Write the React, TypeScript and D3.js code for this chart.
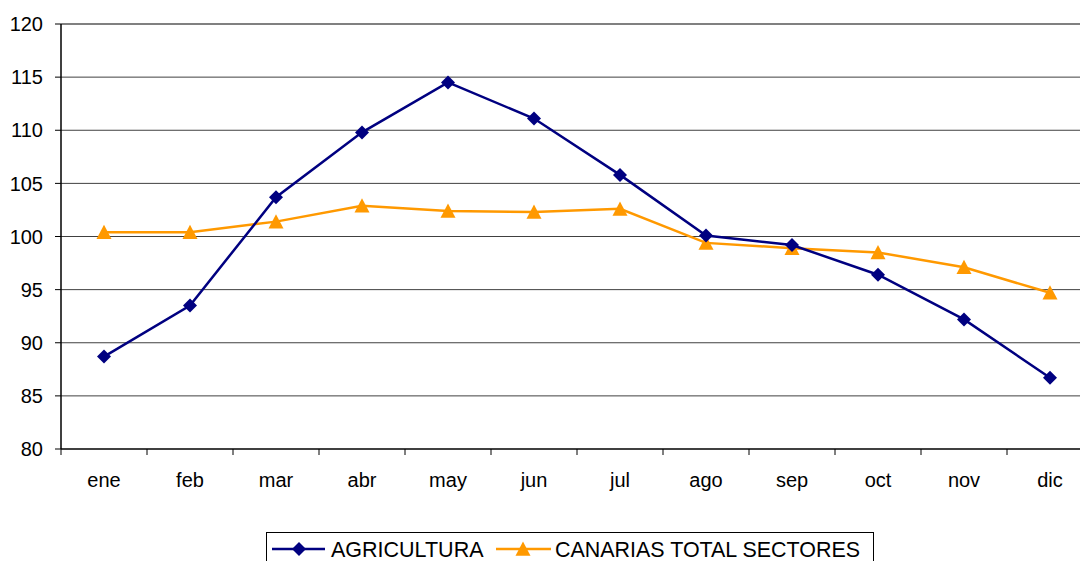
import React from "react";
import * as d3 from "d3";

const months = ["ene", "feb", "mar", "abr", "may", "jun", "jul", "ago", "sep", "oct", "nov", "dic"];
const agricultura = [88.7, 93.5, 103.7, 109.8, 114.5, 111.1, 105.8, 100.1, 99.2, 96.4, 92.2, 86.7];
const canarias = [100.4, 100.4, 101.4, 102.9, 102.4, 102.3, 102.6, 99.4, 98.9, 98.5, 97.1, 94.7];
const yTicks = [80, 85, 90, 95, 100, 105, 110, 115, 120];
const seriesNames = ["AGRICULTURA", "CANARIAS TOTAL SECTORES"];

const W = 1080, H = 561;
const left = 61, top = 24, bottom = 449, plotW = 1032;
const font = "'Liberation Sans', Arial, sans-serif";
const NAVY = "#000080", ORANGE = "#FF9900";

export default function App() {
  const x = d3.scaleBand<string>().domain(months).range([left, left + plotW]);
  const y = d3.scaleLinear().domain([80, 120]).range([bottom, top]);
  const cx = (m: string) => (x(m) as number) + x.bandwidth() / 2;
  const line = d3.line<number>().x((_, i) => cx(months[i])).y((d) => y(d));
  const diamond = (px: number, py: number, r = 7) => `M${px},${py - r}L${px + r},${py}L${px},${py + r}L${px - r},${py}Z`;
  const tri = (px: number, py: number, r = 7.5) => `M${px},${py - r}L${px + r},${py + r * 0.9}L${px - r},${py + r * 0.9}Z`;
  const ticksX = d3.range(months.length + 1).map((i) => left + i * x.step());

  return (
    <svg width={W} height={H} style={{ position: "absolute", left: 0, top: 0, background: "#fff" }}>
      {yTicks.map((t) => (
        <g key={t}>
          {t > 80 && <line x1={left} x2={W} y1={y(t)} y2={y(t)} stroke={t === 120 ? "#808080" : "#404040"} strokeWidth={t === 120 ? 2 : 1} />}
          <line x1={left - 6} x2={left} y1={y(t)} y2={y(t)} stroke="#000" />
          <text x={43} y={y(t)} dy="0.36em" textAnchor="end" fontFamily={font} fontSize={20} fill="#000">{t}</text>
        </g>
      ))}
      <line x1={left} x2={left} y1={top} y2={bottom} stroke="#000" strokeWidth={1.5} />
      <line x1={left} x2={W} y1={bottom} y2={bottom} stroke="#000" strokeWidth={1.5} />
      {ticksX.map((tx, i) => (
        <line key={i} x1={tx} x2={tx} y1={bottom} y2={bottom + 6} stroke="#000" />
      ))}
      {months.map((m) => (
        <text key={m} x={cx(m)} y={487} textAnchor="middle" fontFamily={font} fontSize={20} fill="#000">{m}</text>
      ))}
      <path d={line(canarias) || ""} fill="none" stroke={ORANGE} strokeWidth={2.5} />
      <path d={line(agricultura) || ""} fill="none" stroke={NAVY} strokeWidth={2.5} />
      {canarias.map((v, i) => (
        <path key={"c" + i} d={tri(cx(months[i]), y(v))} fill={ORANGE} />
      ))}
      {agricultura.map((v, i) => (
        <path key={"a" + i} d={diamond(cx(months[i]), y(v))} fill={NAVY} />
      ))}
      <rect x={266.5} y={532.5} width={607} height={40} fill="#fff" stroke="#000" strokeWidth={1} />
      <line x1={272} x2={325} y1={549} y2={549} stroke={NAVY} strokeWidth={2.5} />
      <path d={diamond(299, 549)} fill={NAVY} />
      <text x={331} y={557} fontFamily={font} fontSize={21.5} fill="#000">{seriesNames[0]}</text>
      <line x1={496} x2={551} y1={549} y2={549} stroke={ORANGE} strokeWidth={2.5} />
      <path d={tri(523, 549)} fill={ORANGE} />
      <text x={555} y={557} fontFamily={font} fontSize={21.5} fill="#000" textLength={305} lengthAdjust="spacingAndGlyphs">{seriesNames[1]}</text>
    </svg>
  );
}
